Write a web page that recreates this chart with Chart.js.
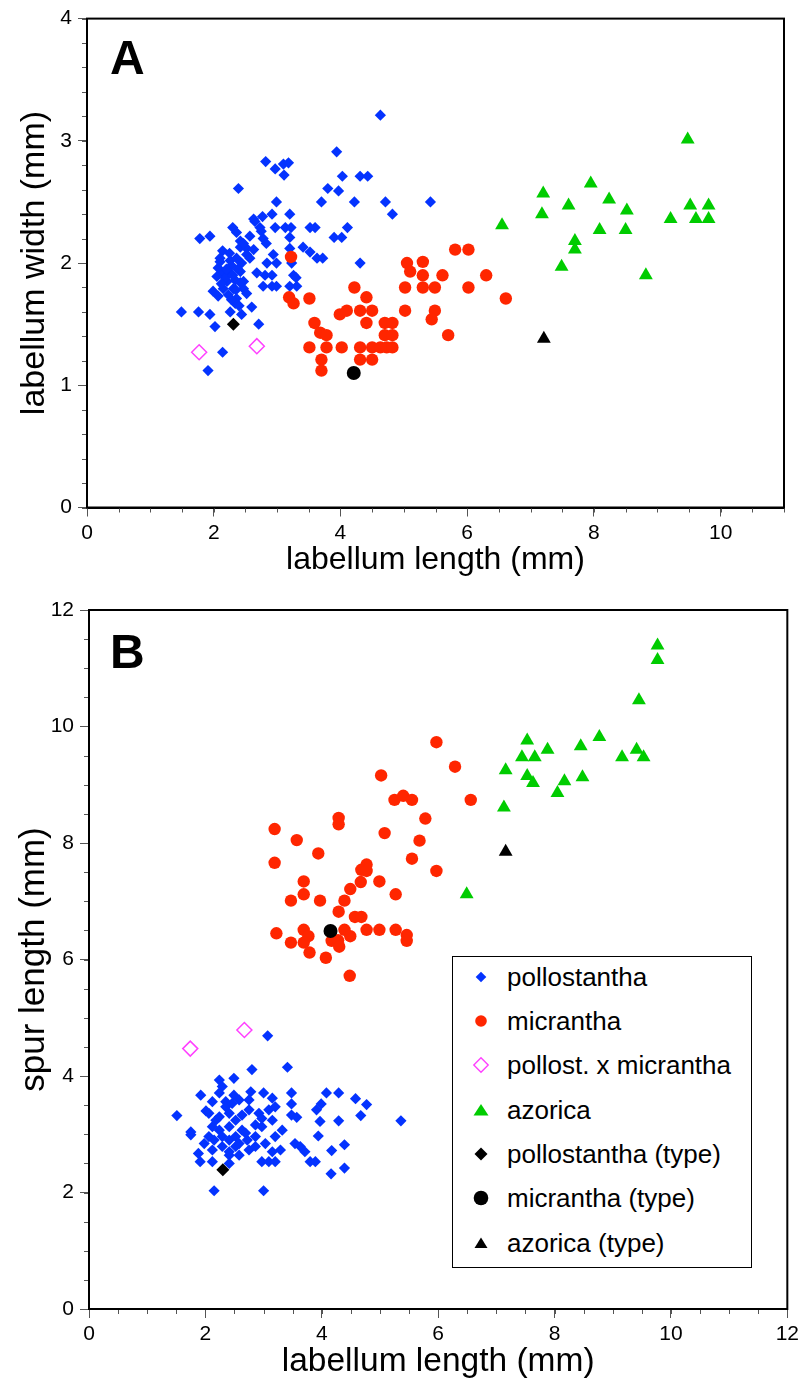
<!DOCTYPE html>
<html><head><meta charset="utf-8">
<script src="https://cdn.jsdelivr.net/npm/chart.js@4.4.0/dist/chart.umd.min.js"></script>
<style>
html,body{margin:0;padding:0;background:#fff;}
#wrap{position:relative;width:803px;height:1385px;overflow:hidden;font-family:"Liberation Sans",Arial,sans-serif;color:#000;}
#cA{position:absolute;left:0;top:0;}
#cB{position:absolute;left:0;top:590px;}
.panel{position:absolute;font-weight:bold;font-size:48px;line-height:48px;}
#legend{position:absolute;left:452px;top:956px;width:300px;height:312px;border:1.5px solid #000;box-sizing:border-box;background:#fff;}
.row{position:absolute;left:0;height:44px;width:290px;}
.row svg{position:absolute;left:17.5px;top:12px;}
.row span{position:absolute;left:54px;top:9px;font-size:26px;line-height:26px;white-space:nowrap;}
</style>
</head><body>
<div id="wrap">
<canvas id="cA" width="803" height="590"></canvas>
<canvas id="cB" width="803" height="795"></canvas>
<div class="panel" style="left:110px;top:34px;">A</div>
<div class="panel" style="left:110px;top:628px;">B</div>
<div id="legend"></div>
</div>
<script>
// ---------- Panel A data (labellum length vs labellum width) ----------
const polloA_x = [4.63,3.94,2.82,2.97,3.10,3.18,3.11,2.39,4.03,4.31,4.43,3.80,3.97,3.70,4.22,4.71,5.42,2.99,4.82,2.77,2.92,3.20,2.30,2.36,2.65,2.73,2.97,3.13,3.22,3.52,3.60,4.11,1.78,1.94,2.57,2.78,3.20,3.90,4.02,2.83,2.14,2.42,2.52,3.20,3.41,3.52,3.63,3.72,4.31,2.10,2.07,2.26,2.36,2.52,2.94,2.84,2.99,3.23,2.68,2.81,2.92,3.26,3.30,2.15,2.26,2.42,2.21,2.34,2.47,2.15,2.31,2.47,2.78,2.92,2.99,3.20,3.31,1.99,2.07,2.23,2.36,2.52,2.34,1.49,1.76,1.94,2.26,2.44,2.60,2.02,2.71,2.14,1.91,2.10,2.18,2.42,2.28,2.44,2.57,2.63,2.42,2.47,2.63,2.75,2.20,2.30,2.38,2.12,2.25,2.05,2.35,2.28,2.40];
const polloA_y = [3.21,2.91,2.83,2.77,2.81,2.82,2.72,2.61,2.71,2.71,2.71,2.61,2.59,2.50,2.50,2.50,2.50,2.50,2.40,2.38,2.40,2.40,2.29,2.25,2.34,2.29,2.29,2.29,2.29,2.29,2.29,2.29,2.20,2.22,2.22,2.20,2.21,2.21,2.21,2.16,2.10,2.13,2.12,2.12,2.13,2.09,2.04,2.04,2.00,2.04,1.96,2.02,2.04,2.07,2.07,2.00,2.00,2.00,1.92,1.90,1.90,1.90,1.88,1.92,1.92,1.93,1.85,1.86,1.85,1.79,1.79,1.79,1.81,1.81,1.81,1.81,1.81,1.77,1.73,1.74,1.71,1.75,1.67,1.60,1.60,1.58,1.60,1.58,1.64,1.48,1.50,1.27,1.12,2.01,1.88,1.84,1.98,2.00,2.04,2.36,2.18,2.16,2.11,2.26,1.95,1.90,1.95,1.83,2.08,1.89,1.78,1.70,1.65];
const microA_x = [3.22,3.19,3.26,3.51,4.22,4.41,3.99,4.10,4.31,4.50,4.41,4.70,4.82,3.59,3.68,3.78,4.70,4.82,3.51,3.78,4.02,4.31,4.50,4.63,4.73,4.82,3.70,3.70,4.31,4.50,5.02,5.02,5.05,5.10,5.30,5.30,5.30,5.49,5.61,5.49,5.44,5.70,5.81,6.02,6.30,6.02,6.61];
const microA_y = [2.05,1.72,1.67,1.71,1.80,1.72,1.58,1.61,1.61,1.61,1.51,1.51,1.51,1.51,1.43,1.41,1.41,1.41,1.31,1.31,1.31,1.31,1.31,1.31,1.31,1.31,1.21,1.12,1.21,1.21,1.80,1.61,2.00,1.93,2.01,1.90,1.80,1.80,1.90,1.61,1.54,1.41,2.11,2.11,1.90,1.80,1.71];
const hybA_x = [1.77,2.68];
const hybA_y = [1.27,1.32];
const azoA_x = [9.48,7.20,7.95,7.60,8.24,8.52,7.18,6.55,9.21,9.52,9.81,9.61,9.81,8.09,8.50,7.70,7.70,7.49,8.82];
const azoA_y = [3.01,2.57,2.65,2.47,2.52,2.43,2.40,2.31,2.36,2.47,2.47,2.36,2.36,2.27,2.27,2.18,2.11,1.97,1.90];
const typeA_pollo = [2.31,1.50];
const typeA_micro = [4.21,1.10];
const typeA_azo = [7.21,1.38];

// ---------- Panel B data (labellum length vs spur length) ----------
const polloB_x = [3.07,2.80,3.41,2.24,2.49,2.29,1.92,2.24,2.49,2.78,3.00,3.48,4.08,4.29,2.12,2.01,2.35,2.58,2.75,3.15,3.20,3.48,3.99,4.58,4.77,1.51,3.91,3.97,4.29,4.67,5.36,1.75,1.75,2.06,2.18,3.48,3.57,2.86,2.97,3.32,3.09,3.94,4.39,3.54,3.63,3.71,4.17,1.98,2.15,2.52,2.86,3.03,3.20,3.29,3.15,1.88,1.91,2.12,2.41,2.58,2.75,2.97,3.09,3.20,3.80,3.89,4.16,4.39,2.41,2.15,3.00,2.24,2.41,2.52,2.63,2.41,2.24,2.12,2.63,2.72,2.41,2.29,2.52,2.12,2.75,2.92,2.97,3.15,2.35,2.46,2.69,2.29,2.06,2.58,2.86,2.41];
const polloB_y = [4.69,4.11,4.15,3.93,3.96,3.82,3.67,3.71,3.67,3.73,3.71,3.71,3.71,3.71,3.56,3.40,3.56,3.59,3.59,3.62,3.47,3.52,3.52,3.61,3.51,3.32,3.42,3.22,3.23,3.32,3.23,3.04,2.99,3.36,3.24,3.33,3.29,3.16,3.13,3.07,3.42,2.97,2.82,2.84,2.79,2.70,2.72,2.84,2.90,2.96,2.96,2.84,2.96,2.73,2.70,2.67,2.53,2.53,2.64,2.64,2.73,2.53,2.53,2.53,2.53,2.53,2.32,2.42,2.50,2.03,2.03,3.30,3.36,3.24,3.33,3.13,3.07,3.13,3.07,2.90,2.90,2.79,2.79,2.73,3.42,3.36,3.27,3.24,3.47,3.53,3.02,2.96,2.96,2.84,2.79,2.70];
const microB_x = [5.97,6.29,5.02,5.25,5.40,5.55,6.56,4.29,4.29,5.78,3.19,5.08,3.57,5.68,3.94,3.19,5.55,5.97,4.77,4.68,4.77,4.67,4.99,3.69,3.69,5.27,4.49,3.47,3.97,4.39,4.29,4.57,4.68,3.22,3.69,3.77,3.69,3.47,3.79,4.07,4.17,4.28,4.30,4.39,4.49,4.77,4.99,5.27,5.46,5.46,4.48];
const microB_y = [9.73,9.31,9.16,8.74,8.81,8.74,8.74,8.43,8.32,8.42,8.24,8.17,8.05,8.04,7.82,7.66,7.73,7.52,7.63,7.54,7.52,7.33,7.34,7.34,7.12,7.12,7.21,7.01,7.01,7.01,6.82,6.73,6.73,6.45,6.51,6.40,6.29,6.29,6.12,6.03,6.32,6.33,6.22,6.51,6.40,6.51,6.51,6.51,6.42,6.32,5.72];
const hybB_x = [1.74,2.67];
const hybB_y = [4.47,4.79];
const azoB_x = [6.49,7.13,7.16,7.53,7.44,7.66,7.53,7.63,7.88,8.45,8.77,9.16,9.41,9.53,8.17,8.48,8.05,9.45,9.77,9.77];
const azoB_y = [7.12,8.61,9.25,9.76,9.47,9.47,9.15,9.03,9.60,9.66,9.82,9.47,9.60,9.47,9.06,9.13,8.86,10.45,11.39,11.14];
const typeB_pollo = [2.30,2.39];
const typeB_micro = [4.15,6.49];
const typeB_azo = [7.16,7.85];

// ---------- axis / tick settings ----------
const xTitle = 'labellum length (mm)';
const yTitleA = 'labellum width (mm)';
const yTitleB = 'spur length (mm)';
const legendLabels = ['pollostantha','micrantha','pollost. x micrantha','azorica','pollostantha (type)','micrantha (type)','azorica (type)'];

const COL = {blue:'#0433ff', red:'#ff2600', pink:'#ff40ff', green:'#00cc00', black:'#000000'};
const FONT = '"Liberation Sans", Arial, Helvetica, sans-serif';

function pts(xs, ys){ return xs.map((x,i)=>({x:x, y:ys[i]})); }

function datasets(p){
  return [
    {label:legendLabels[4], data:[{x:p.tp[0],y:p.tp[1]}], pointStyle:'rectRot', pointRadius:6.5, backgroundColor:COL.black, borderColor:COL.black, borderWidth:0, order:0},
    {label:legendLabels[5], data:[{x:p.tm[0],y:p.tm[1]}], pointStyle:'circle', pointRadius:7, backgroundColor:COL.black, borderColor:COL.black, borderWidth:0, order:1},
    {label:legendLabels[6], data:[{x:p.ta[0],y:p.ta[1]}], pointStyle:'triangle', pointRadius:8, backgroundColor:COL.black, borderColor:COL.black, borderWidth:0, order:2},
    {label:legendLabels[2], data:pts(p.hx,p.hy), pointStyle:'rectRot', pointRadius:7.5, backgroundColor:'rgba(255,255,255,0)', borderColor:COL.pink, borderWidth:1.5, order:3},
    {label:legendLabels[3], data:pts(p.ax,p.ay), pointStyle:'triangle', pointRadius:8, backgroundColor:COL.green, borderColor:COL.green, borderWidth:0, order:4},
    {label:legendLabels[1], data:pts(p.mx,p.my), pointStyle:'circle', pointRadius:6.2, backgroundColor:COL.red, borderColor:COL.red, borderWidth:0, order:5},
    {label:legendLabels[0], data:pts(p.px,p.py), pointStyle:'rectRot', pointRadius:5.6, backgroundColor:COL.blue, borderColor:COL.blue, borderWidth:0, order:6}
  ];
}

const frame = {
  id:'frame',
  afterDraw(chart, args, opts){
    const ctx = chart.ctx, a = chart.chartArea;
    const xs = chart.scales.x, ys = chart.scales.y;
    ctx.save();
    // minor ticks
    ctx.strokeStyle = '#555'; ctx.lineWidth = 1;
    ctx.beginPath();
    for (let v = xs.min; v <= xs.max + 1e-9; v += opts.minorX){
      const p = Math.round(xs.getPixelForValue(v)) + 0.5;
      ctx.moveTo(p, a.bottom); ctx.lineTo(p, a.bottom + 5);
    }
    for (let v = ys.min; v <= ys.max + 1e-9; v += opts.minorY){
      const p = Math.round(ys.getPixelForValue(v)) + 0.5;
      ctx.moveTo(a.left - 5, p); ctx.lineTo(a.left, p);
    }
    ctx.stroke();
    // box
    ctx.strokeStyle = '#000'; ctx.lineWidth = 2;
    ctx.strokeRect(a.left, a.top, a.right - a.left, a.bottom - a.top);
    ctx.restore();
  }
};

function makeChart(id, p){
  return new Chart(document.getElementById(id), {
    type:'scatter',
    data:{datasets:datasets(p)},
    plugins:[frame],
    options:{
      responsive:false, animation:false, events:[],
      layout:{padding:p.pad},
      plugins:{legend:{display:false}, tooltip:{enabled:false}, frame:{minorX:p.minorX, minorY:p.minorY}},
      scales:{
        x:{type:'linear', position:'bottom', min:0, max:p.xmax,
           ticks:{stepSize:2, includeBounds:false, autoSkip:false, maxRotation:0, color:'#000', padding:4, font:{family:FONT, size:21}},
           grid:{drawOnChartArea:false, drawTicks:true, tickLength:9, tickColor:'#555', tickWidth:1},
           border:{display:true, color:'#000', width:2},
           title:{display:true, text:xTitle, color:'#000', font:{family:FONT, size:p.xts}, padding:{top:0,bottom:p.xtp}},
           afterFit(s){ s.height = p.xh; }},
        y:{type:'linear', position:'left', min:0, max:p.ymax,
           ticks:{stepSize:p.ystep, autoSkip:false, color:'#000', padding:6, font:{family:FONT, size:21}},
           grid:{drawOnChartArea:false, drawTicks:true, tickLength:9, tickColor:'#555', tickWidth:1},
           border:{display:true, color:'#000', width:2},
           title:{display:true, text:p.yTitle, color:'#000', font:{family:FONT, size:p.yts}, padding:{top:p.ytp,bottom:0}},
           afterFit(s){ s.width = p.yw; }}
      }
    }
  });
}

makeChart('cA', {px:polloA_x, py:polloA_y, mx:microA_x, my:microA_y, hx:hybA_x, hy:hybA_y, ax:azoA_x, ay:azoA_y,
  tp:typeA_pollo, tm:typeA_micro, ta:typeA_azo, xmax:11, ymax:4, ystep:1, minorX:0.5, minorY:0.2,
  pad:{left:0, top:15, right:19, bottom:0}, xh:82.5, yw:87, xts:32, xtp:11, yts:34, ytp:14, yTitle:yTitleA});
makeChart('cB', {px:polloB_x, py:polloB_y, mx:microB_x, my:microB_y, hx:hybB_x, hy:hybB_y, ax:azoB_x, ay:azoB_y,
  tp:typeB_pollo, tm:typeB_micro, ta:typeB_azo, xmax:12, ymax:12, ystep:2, minorX:0.5, minorY:0.5,
  pad:{left:0, top:20, right:11, bottom:0}, xh:76, yw:89, xts:33.5, xtp:3, yts:35, ytp:13, yTitle:yTitleB});

// ---------- HTML legend ----------
const legendMarks = [
  '<polygon points="10,4.7 15.3,10 10,15.3 4.7,10" fill="'+COL.blue+'"/>',
  '<circle cx="10" cy="10" r="5.8" fill="'+COL.red+'"/>',
  '<polygon points="10,2.8 17.2,10 10,17.2 2.8,10" fill="none" stroke="'+COL.pink+'" stroke-width="1.4"/>',
  '<polygon points="10,4 17.5,15.5 2.5,15.5" fill="'+COL.green+'"/>',
  '<polygon points="10,3.5 16.5,10 10,16.5 3.5,10" fill="#000"/>',
  '<circle cx="10" cy="10" r="7.3" fill="#000"/>',
  '<polygon points="10,4.5 16.5,15 3.5,15" fill="#000"/>'
];
const lg = document.getElementById('legend');
legendLabels.forEach((t,i)=>{
  const r = document.createElement('div');
  r.className = 'row';
  r.style.top = (977 + 44.35*i - 956 - 1.5 - 22) + 'px';
  r.innerHTML = '<svg width="20" height="20" viewBox="0 0 20 20">'+legendMarks[i]+'</svg><span>'+t+'</span>';
  lg.appendChild(r);
});
</script>
</body></html>
